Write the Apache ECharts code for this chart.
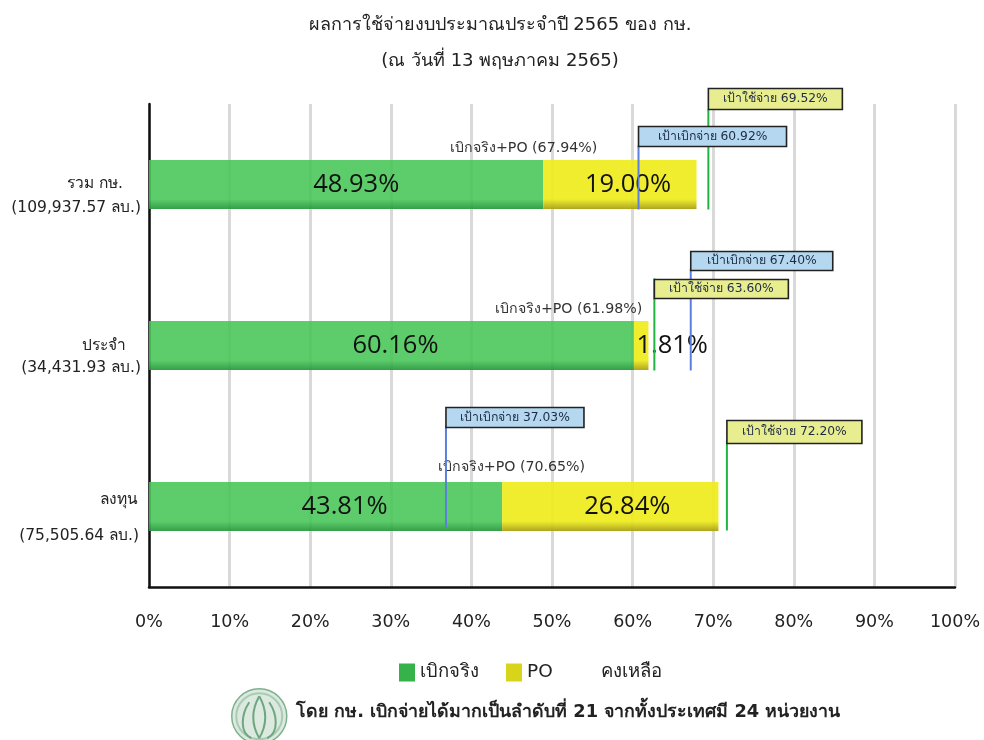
<!DOCTYPE html>
<html><head><meta charset="utf-8">
<style>html,body{margin:0;padding:0;background:#fff}#c{width:984px;height:740px}</style>
<script src="https://cdn.jsdelivr.net/npm/echarts@6/dist/echarts.min.js"></script>
</head><body><div id="c"></div>
<script>
const categories = ['รวม กษ.', 'ประจำ', 'ลงทุน'];
const budgets = ['(109,937.57 ลบ.)', '(34,431.93 ลบ.)', '(75,505.64 ลบ.)'];
const actual = [48.93, 60.16, 43.81];
const po = [19.00, 1.81, 26.84];
const remaining = [32.06, 38.02, 29.35];
const totals = [67.94, 61.98, 70.65];
const disburseTarget = [60.92, 67.40, 37.03];
const spendTargetLabel = [69.52, 63.60, 72.20];
// where the reference actually draws the green marks
const spendTargetDrawn = [69.4, 62.7, 71.7];
const tickLabels = ['0%','10%','20%','30%','40%','50%','60%','70%','80%','90%','100%'];

const F = '"DejaVu Sans","Noto Sans",sans-serif';
const LF = '"Open Sans","Noto Sans",sans-serif';
const actualShift = [10, 4, 19], poShift = [8, 0, 17];
const poLabelFix = [0, 31, 0];
const totalShift = [-173, -80, -207], totalDy = [-36, -36, -39];
const blueBox = {dx:-1.5, w:[148,142,138], h:[20,19,20], top:[-58,-94,-99], lineTop:[-39,-77,-81], bottom:[25,25,21]};
const yelBox  = {dx:0, w:[134,134,135], h:[21,19,23], top:[-96,-66,-86], lineTop:[-75,-67,-66], bottom:[25,25,24]};

function gradient(c1,c2){return {type:'linear',x:0,y:0,x2:0,y2:1,colorStops:[
  {offset:0,color:c1},{offset:.8,color:c1},{offset:1,color:c2}]};}

function barData(vals, shift){return vals.map((v,i)=>({value:v,label:{offset:[shift[i],0]}}));}

function targetLine(color,box){
  return function(params,api){
    const i=params.dataIndex, cy=api.coord([0,i])[1], x=api.coord([api.value(0),i])[0]+box.dx;
    return {type:'line',shape:{x1:x,y1:cy+box.lineTop[i],x2:x,y2:cy+box.bottom[i]},style:{stroke:color,lineWidth:2}};
  };
}
function targetBox(fill,name,box,labels){
  return function(params,api){
    const i=params.dataIndex, cy=api.coord([0,i])[1], x=api.coord([api.value(0),i])[0]+box.dx;
    return {type:'group',children:[
      {type:'rect',shape:{x:x,y:cy+box.top[i],width:box.w[i],height:box.h[i]},style:{fill:fill,stroke:'#222',lineWidth:1.6}},
      {type:'text',x:x+box.w[i]/2,y:cy+box.top[i]+box.h[i]/2,style:{text:name+' '+labels[i].toFixed(2)+'%',font:'12.3px '+F,fill:'#1c2a44',align:'center',verticalAlign:'middle'}}
    ]};
  };
}

const chart = echarts.init(document.getElementById('c'));
const sealStroke = {fill:'none',stroke:'#6fa682',lineWidth:2};
const yl = {align:'right',fontFamily:F,fontSize:15.5,color:'#222'};
const disburseRows = disburseTarget.map((v,i)=>[v,i]);
const spendRows = spendTargetDrawn.map((v,i)=>[v,i]);
chart.setOption({
  animation:false,
  backgroundColor:'#fff',
  title:[
    {text:'ผลการใช้จ่ายงบประมาณประจำปี 2565 ของ กษ.',left:495,top:11,textAlign:'center',textStyle:{fontFamily:F,fontSize:18,fontWeight:'normal',color:'#222'}},
    {text:'(ณ วันที่ 13 พฤษภาคม 2565)',left:495,top:47,textAlign:'center',textStyle:{fontFamily:F,fontSize:18,fontWeight:'normal',color:'#222'}},
    {text:'โดย กษ. เบิกจ่ายได้มากเป็นลำดับที่ 21 จากทั้งประเทศมี 24 หน่วยงาน',left:291,top:698,textStyle:{fontFamily:F,fontSize:17.8,fontWeight:'bold',color:'#222'}}
  ],
  legend:{
    data:[{name:'เบิกจริง',itemStyle:{color:'#35b24a'}},{name:'PO',itemStyle:{color:'#d8d41c'}},{name:'คงเหลือ',itemStyle:{color:'transparent'}}],
    left:394,top:658,itemWidth:16,itemHeight:18,itemGap:27,icon:'rect',selectedMode:false,
    textStyle:{fontFamily:F,fontSize:18.5,color:'#222'}
  },
  grid:{left:149,right:29,top:104,bottom:153},
  xAxis:{type:'value',min:0,max:100,interval:10,
    axisLine:{show:true,lineStyle:{color:'#111',width:2.5}},axisTick:{show:false},
    splitLine:{show:true,lineStyle:{color:'#d9d9d9',width:3}},
    axisLabel:{margin:26,fontFamily:F,fontSize:17.5,color:'#222',formatter:(v)=>tickLabels[v/10],hideOverlap:false}},
  yAxis:{type:'category',inverse:true,data:categories,
    axisLine:{show:true,lineStyle:{color:'#111',width:2.5}},axisTick:{show:false},splitLine:{show:false},
    axisLabel:{margin:8,align:'right',fontFamily:F,fontSize:15.5,color:'#222',padding:[22,0,0,0],
      formatter:(v,i)=>`{a${i}|${v}}\n{b${i}|${budgets[i]}}`,
      rich:{
        a0:{...yl,lineHeight:24,padding:[0,18,0,0]},
        a1:{...yl,lineHeight:22,padding:[0,15,0,0]},
        a2:{...yl,lineHeight:36,padding:[0,3,0,0]},
        b0:{...yl,lineHeight:24},
        b1:{...yl,lineHeight:22},
        b2:{...yl,lineHeight:36,padding:[0,2,0,0]}
      }}},
  series:[
    {name:'เบิกจริง',type:'bar',stack:'a',barWidth:49,data:barData(actual,actualShift),
      itemStyle:{color:gradient('rgba(70,198,86,.88)','rgba(36,150,58,.92)')},
      label:{show:true,position:'inside',formatter:(p)=>p.value.toFixed(2)+'%',fontFamily:LF,fontSize:25.5,color:'#111'}},
    {name:'PO',type:'bar',stack:'a',barWidth:49,data:barData(po,po.map((_,i)=>poShift[i]+poLabelFix[i])),
      itemStyle:{color:gradient('rgba(238,236,30,.93)','rgba(170,160,20,.95)')},
      label:{show:true,position:'inside',formatter:(p)=>p.value.toFixed(2)+'%',fontFamily:LF,fontSize:25.5,color:'#111'}},
    {name:'คงเหลือ',type:'bar',stack:'a',barWidth:49,data:remaining,itemStyle:{color:'transparent'}},
    {type:'custom',name:'totals',z:5,coordinateSystem:'cartesian2d',data:totals.map((v,i)=>[v,i]),encode:{x:0,y:1},
      renderItem:(params,api)=>{
        const i=params.dataIndex,p=api.coord([api.value(0),i]);
        return {type:'text',x:p[0]+totalShift[i],y:p[1]+totalDy[i],style:{text:'เบิกจริง+PO ('+totals[i].toFixed(2)+'%)',font:'14.2px '+F,fill:'#333',align:'center',verticalAlign:'middle'}};
      }},
    {type:'custom',name:'เป้าเบิกจ่ายเส้น',z:6,data:disburseRows,encode:{x:0,y:1},renderItem:targetLine('#5b7fe0',blueBox)},
    {type:'custom',name:'เป้าใช้จ่ายเส้น',z:6,data:spendRows,encode:{x:0,y:1},renderItem:targetLine('#22b440',yelBox)},
    {type:'custom',name:'เป้าเบิกจ่าย',z:7,data:disburseRows,encode:{x:0,y:1},
      renderItem:targetBox('#b5d8f0','เป้าเบิกจ่าย',blueBox,disburseTarget)},
    {type:'custom',name:'เป้าใช้จ่าย',z:8,data:spendRows,encode:{x:0,y:1},
      renderItem:targetBox('#e8ee90','เป้าใช้จ่าย',yelBox,spendTargetLabel)}
  ],
  graphic:[
    {type:'group',left:231,top:688,silent:true,children:[
      {type:'circle',shape:{cx:28,cy:28,r:27.5},style:{fill:'#dbe9de',stroke:'#7fb08f',lineWidth:1.5}},
      {type:'circle',shape:{cx:28,cy:28,r:23},style:{fill:'none',stroke:'#a9cbb3',lineWidth:2}},
      {type:'bezierCurve',shape:{x1:28,y1:8,x2:28,y2:50,cpx1:20,cpy1:22,cpx2:20,cpy2:36},style:sealStroke},
      {type:'bezierCurve',shape:{x1:28,y1:8,x2:28,y2:50,cpx1:36,cpy1:22,cpx2:36,cpy2:36},style:sealStroke},
      {type:'bezierCurve',shape:{x1:18,y1:14,x2:20,y2:50,cpx1:10,cpy1:26,cpx2:8,cpy2:44},style:sealStroke},
      {type:'bezierCurve',shape:{x1:38,y1:14,x2:36,y2:50,cpx1:46,cpy1:26,cpx2:48,cpy2:44},style:sealStroke}
    ]}
  ]
});
</script></body></html>
